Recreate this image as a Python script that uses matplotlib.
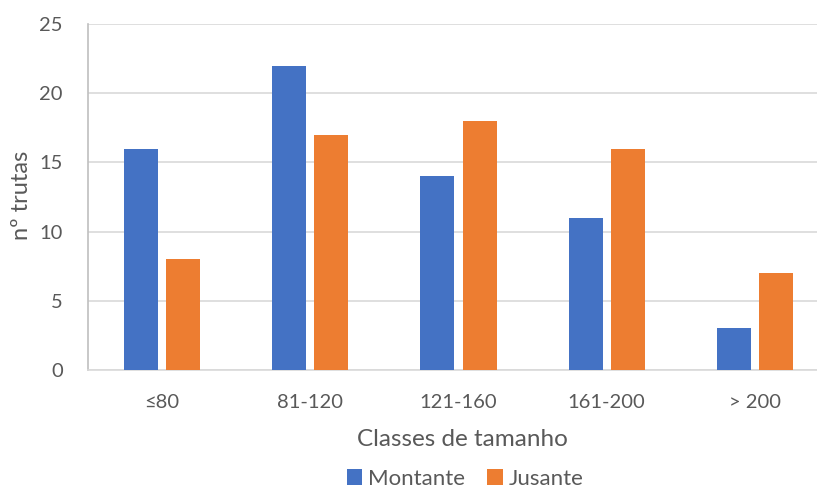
import matplotlib
matplotlib.use("Agg")
import matplotlib.pyplot as plt
import numpy as np

categories = ["≤80", "81-120", "121-160", "161-200", "> 200"]
montante = [16, 22, 14, 11, 3]
jusante = [8, 17, 18, 16, 7]
yticks = [0, 5, 10, 15, 20, 25]

plt.rcParams["font.family"] = ["Lato", "DejaVu Sans"]
text_color = "#595959"

fig = plt.figure(figsize=(8.17, 4.91), dpi=100)
ax = fig.add_axes([88 / 817, 1 - 370 / 491, 741 / 817, 346 / 491])

x = np.arange(len(categories))
off = 0.142
w = 0.23
ax.bar(x - off, montante, width=w, color="#4472C4", label="Montante", zorder=3)
ax.bar(x + off, jusante, width=w, color="#ED7D31", label="Jusante", zorder=3)

ax.set_xlim(-0.5, len(categories) - 0.5)
ax.set_ylim(0, 25)
ax.set_yticks(yticks)
ax.set_xticks(x)
ax.set_xticklabels(categories)
ax.grid(axis="y", color="#d9d9d9", linewidth=1.2, zorder=0)
ax.tick_params(axis="both", length=0, labelsize=14.5, colors=text_color)
ax.tick_params(axis="x", pad=17)
ax.tick_params(axis="y", pad=18)

for s in ["top", "right"]:
    ax.spines[s].set_visible(False)
ax.spines["left"].set_color("#bfbfbf")
ax.spines["left"].set_linewidth(1.2)
ax.spines["bottom"].set_color("#d9d9d9")
ax.spines["bottom"].set_linewidth(1.2)

fig.text(22 / 817, 1 - 195 / 491, "nº trutas", rotation=90, ha="center", va="center",
         fontsize=17, color=text_color)
fig.text(462 / 817, 1 - 440 / 491, "Classes de tamanho", ha="center", va="center",
         fontsize=17.5, color=text_color)

fig.legend(loc="center", bbox_to_anchor=(465 / 817, 1 - 479 / 491), ncol=2, frameon=False,
           fontsize=16, labelcolor=text_color, handlelength=0.7, handleheight=0.7,
           handletextpad=0.25, columnspacing=1.0, borderpad=0.2)

fig.savefig("out.png", dpi=100)
